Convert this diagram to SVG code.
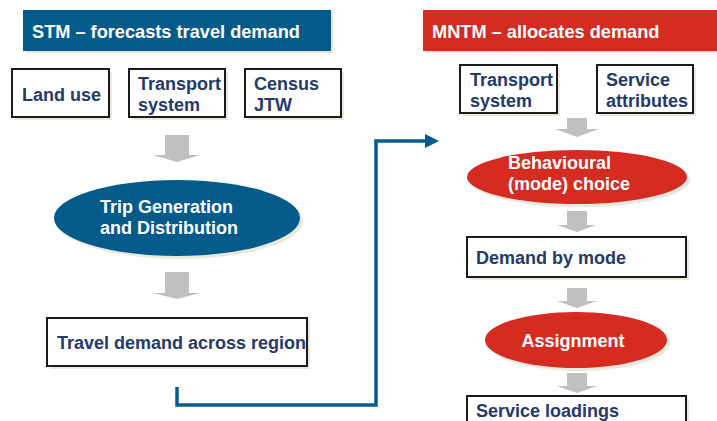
<svg xmlns="http://www.w3.org/2000/svg" width="717" height="421" viewBox="0 0 717 421">
<defs>
<style>
text{font-family:"Liberation Sans",Arial,sans-serif;font-weight:bold;font-size:18px}
.hd{font-size:18.2px}
.dk{fill:#243a6c}
.wt{fill:#ffffff}
.box{fill:#ffffff;stroke:#1a1a1a;stroke-width:2}
.sh{fill:#ebe8de}
.ga{fill:#c0c0c0}
.conn{fill:none;stroke:#035b8f;stroke-width:3.5}
</style>
<marker id="ah" markerWidth="4" markerHeight="4" refX="2" refY="2" orient="auto" markerUnits="strokeWidth" viewBox="0 0 4 4">
<path d="M0,0 L4,2 L0,4 Z" fill="#035b8f"/>
</marker>
</defs>
<rect width="717" height="421" fill="#ffffff"/>

<g id="stm-header">
<rect x="25" y="12" width="308" height="41" fill="#ebe8de"/>
<rect x="23" y="10" width="308" height="41" fill="#035b8c"/>
<text x="32" y="38" class="wt hd">STM – forecasts travel demand</text>
</g>
<g id="mntm-header">
<rect x="425" y="12" width="292" height="41" fill="#ebe8de"/>
<rect x="423" y="10" width="294" height="41" fill="#d52b20"/>
<text x="432" y="38" class="wt hd">MNTM – allocates demand</text>
</g>

<g id="land-use">
<rect x="15" y="72" width="97" height="48" class="sh"/>
<rect x="12" y="69" width="97" height="48" class="box"/>
<text x="22" y="101" class="dk">Land use</text>
</g>
<g id="transport-system-left">
<rect x="132" y="72" width="96" height="48" class="sh"/>
<rect x="129" y="69" width="96" height="48" class="box"/>
<text x="138" y="90" class="dk">Transport</text>
<text x="138" y="111" class="dk">system</text>
</g>
<g id="census-jtw">
<rect x="248" y="72" width="96" height="48" class="sh"/>
<rect x="245" y="69" width="96" height="48" class="box"/>
<text x="254" y="90" class="dk">Census</text>
<text x="254" y="111" class="dk">JTW</text>
</g>

<g id="trip-generation">
<ellipse cx="180" cy="221" rx="123" ry="38" fill="#ebe8de"/>
<ellipse cx="177" cy="218" rx="123" ry="38" fill="#035b8c"/>
<text x="100" y="213" class="wt">Trip Generation</text>
<text x="100" y="234" class="wt">and Distribution</text>
</g>

<g id="travel-demand">
<rect x="50" y="321" width="260" height="48" class="sh"/>
<rect x="47" y="318" width="260" height="48" class="box"/>
<text x="57" y="349" class="dk">Travel demand across region</text>
</g>

<g id="transport-system-right">
<rect x="463" y="68" width="97" height="48" class="sh"/>
<rect x="460" y="65" width="97" height="48" class="box"/>
<text x="470" y="86" class="dk">Transport</text>
<text x="470" y="107" class="dk">system</text>
</g>
<g id="service-attributes">
<rect x="600" y="68" width="96" height="48" class="sh"/>
<rect x="597" y="65" width="96" height="48" class="box"/>
<text x="606" y="86" class="dk">Service</text>
<text x="606" y="107" class="dk">attributes</text>
</g>

<g id="behavioural-choice">
<ellipse cx="580" cy="180" rx="110" ry="27" fill="#ebe8de"/>
<ellipse cx="577" cy="177" rx="110" ry="27" fill="#d52b20"/>
<text x="508" y="169" class="wt">Behavioural</text>
<text x="508" y="190" class="wt">(mode) choice</text>
</g>

<g id="demand-by-mode">
<rect x="470" y="240" width="219" height="40" class="sh"/>
<rect x="467" y="237" width="219" height="40" class="box"/>
<text x="476" y="264" class="dk">Demand by mode</text>
</g>

<g id="assignment">
<ellipse cx="579" cy="343" rx="91" ry="28" fill="#ebe8de"/>
<ellipse cx="576" cy="340" rx="91" ry="28" fill="#d52b20"/>
<text x="573" y="347" class="wt" text-anchor="middle">Assignment</text>
</g>

<g id="service-loadings">
<rect x="470" y="399" width="219" height="40" class="sh"/>
<rect x="467" y="396" width="219" height="40" class="box"/>
<text x="476" y="417" class="dk">Service loadings</text>
</g>

<g id="connectors">
<path class="ga" d="M165,135 H189 V155 H200 L177,162 L153,155 H165 Z"/>
<path class="ga" d="M165,272 H189 V293 H200 L177,299 L153,293 H165 Z"/>
<path class="ga" d="M567,118 H587 V129 H599 L577,137 L555,129 H567 Z"/>
<path class="ga" d="M567,211 H587 V225 H596 L577,232 L557,225 H567 Z"/>
<path class="ga" d="M567,288 H587 V301 H597 L577,308 L557,301 H567 Z"/>
<path class="ga" d="M567,373 H587 V386 H597 L577,393 L557,386 H567 Z"/>
<path class="conn" d="M177,387 V405 H376 V141 H432" marker-end="url(#ah)"/>
</g>
</svg>
